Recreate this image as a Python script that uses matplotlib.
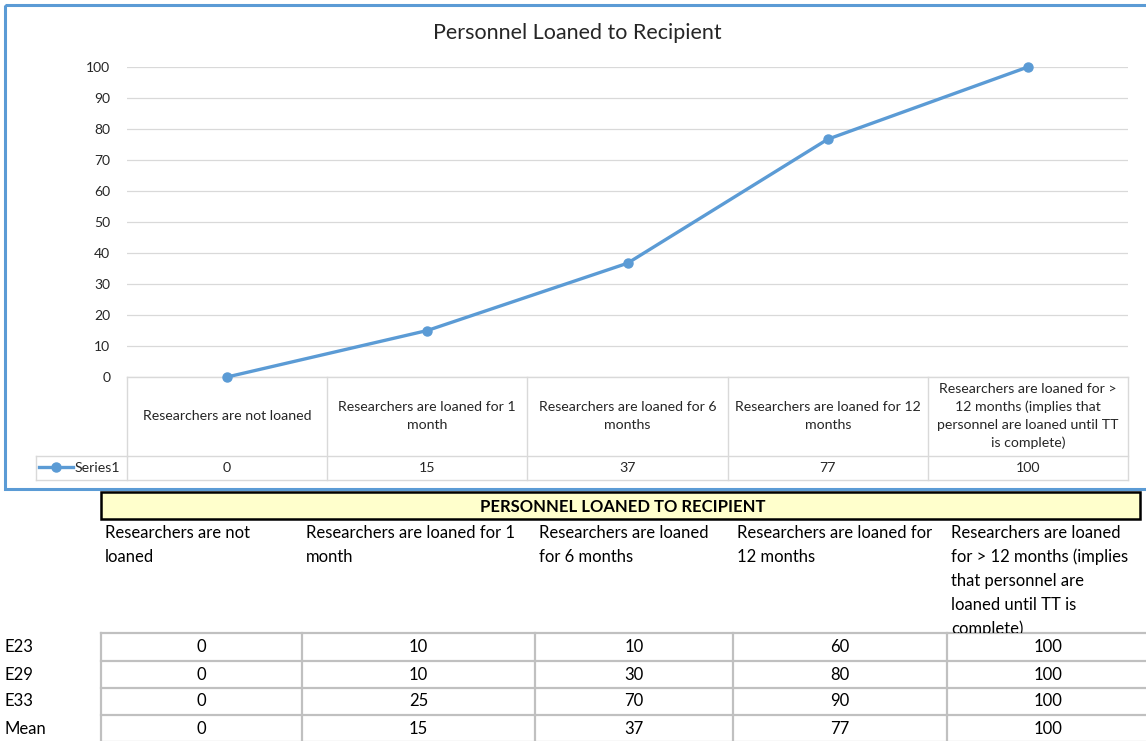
import matplotlib
matplotlib.use("Agg")
import matplotlib.pyplot as plt
from matplotlib.patches import Rectangle
from matplotlib.transforms import blended_transform_factory, Bbox, TransformedBbox

plt.rcParams['font.family'] = ['Lato', 'DejaVu Sans']

# data
categories = [
    "Researchers are not loaned",
    "Researchers are loaned for 1\nmonth",
    "Researchers are loaned for 6\nmonths",
    "Researchers are loaned for 12\nmonths",
    "Researchers are loaned for >\n12 months (implies that\npersonnel are loaned until TT\nis complete)",
]
series1 = [0, 15, 36.7, 76.7, 100]

sheet_headers = [
    ["Researchers are not", "loaned"],
    ["Researchers are loaned for 1", "month"],
    ["Researchers are loaned", "for 6 months"],
    ["Researchers are loaned for", "12 months"],
    ["Researchers are loaned", "for > 12 months (implies", "that personnel are",
     "loaned until TT is", "complete)"],
]
row_names = ["E23", "E29", "E33", "Mean"]
row_values = [
    [0, 10, 10, 60, 100],
    [0, 10, 30, 80, 100],
    [0, 25, 70, 90, 100],
    [0, 15, 37, 77, 100],
]

W, H = 1146, 741
fig = plt.figure(figsize=(W / 100, H / 100), dpi=100)

# pixel-space background axes
bg = fig.add_axes([0, 0, 1, 1])
bg.set_xlim(0, W)
bg.set_ylim(H, 0)
bg.axis('off')

blue = '#5B9BD5'
grid_c = '#D9D9D9'
txt_c = '#262626'

# chart frame
bg.add_patch(Rectangle((5, 5), W + 10, 484, fill=False, ec=blue, lw=2.2, zorder=1))

# plot area (pixel 127..1128 x, 67..377 y)
px0, px1, py0, py1 = 127, 1128, 67, 377
ax = fig.add_axes([px0 / W, 1 - py1 / H, (px1 - px0) / W, (py1 - py0) / H])
ax.set_xlim(-0.5, len(categories) - 0.5)
ax.set_ylim(0, 100)
ax.set_yticks(range(0, 101, 10))
ax.set_xticks([])
ax.tick_params(axis='y', length=0, pad=12, labelsize=10, colors=txt_c)
ax.grid(axis='y', color=grid_c, lw=0.9)
ax.set_axisbelow(True)
for s in ax.spines.values():
    s.set_visible(False)
ax.patch.set_alpha(0)
ax.plot(range(len(series1)), series1, color=blue, lw=2.4, marker='o', ms=6.5,
        clip_on=False, zorder=3)

fig.text(577 / W, 1 - 33 / H, "Personnel Loaned to Recipient", ha='center',
         va='center', fontsize=15.5, color=txt_c)

# data table inside chart
tr = blended_transform_factory(ax.transData, bg.transData)
n = len(categories)
lc = dict(color=grid_c, lw=1.0)
bg.plot([-0.5, n - 0.5], [377, 377], transform=tr, **lc)
bg.plot([-0.5, n - 0.5], [456, 456], transform=tr, **lc)
bg.plot([36, px1], [480, 480], **lc)
bg.plot([36, px0], [456, 456], **lc)
bg.plot([36, 36], [456, 480], **lc)
for i in range(n + 1):
    bg.plot([i - 0.5, i - 0.5], [377, 480], transform=tr, **lc)
for i, (lab, v) in enumerate(zip(categories, series1)):
    bg.text(i, 416, lab, transform=tr, ha='center', va='center', fontsize=10.2,
            color=txt_c, linespacing=1.55)
    bg.text(i, 468, f"{v:.0f}", transform=tr, ha='center', va='center',
            fontsize=10.2, color=txt_c)
bg.plot([39, 73], [467, 467], color=blue, lw=2.4)
bg.plot([56], [467], marker='o', ms=6.5, color=blue)
bg.text(75, 468, "Series1", ha='left', va='center', fontsize=10.2, color=txt_c)

# spreadsheet below
bg.add_patch(Rectangle((101, 492), 1039, 27, fc='#FFFFCC', ec='black', lw=1.8, zorder=2))
bg.text(623, 507, "PERSONNEL LOANED TO RECIPIENT", ha='center', va='center',
        fontsize=12, fontweight='bold', color='black', zorder=3)

col_edges = [101, 302, 535, 733, 947, W + 5]
clip_box = TransformedBbox(Bbox([[0, 519], [W, 633]]), bg.transData)
for c, lines in enumerate(sheet_headers):
    for k, line in enumerate(lines):
        t = bg.text(col_edges[c] + 4, 533 + 24 * k, line, ha='left', va='center',
                    fontsize=12, color='black')
        t.set_clip_on(True)
        t.set_clip_box(clip_box)

row_edges = [633, 661, 688, 715, 742]
sc = dict(color='#C0C0C0', lw=1.6)
for y in row_edges:
    bg.plot([col_edges[0], W], [y, y], **sc)
for x in col_edges:
    bg.plot([x, x], [633, H], **sc)
for r, (name, vals) in enumerate(zip(row_names, row_values)):
    yc = (row_edges[r] + row_edges[r + 1]) / 2
    bg.text(5, yc, name, ha='left', va='center', fontsize=12, color='black')
    for c, v in enumerate(vals):
        xc = (col_edges[c] + min(col_edges[c + 1], W + 5)) / 2
        if c == len(vals) - 1:
            xc = 1048
        bg.text(xc, yc, str(v), ha='center', va='center', fontsize=12, color='black')

fig.savefig("out.png", dpi=100)
